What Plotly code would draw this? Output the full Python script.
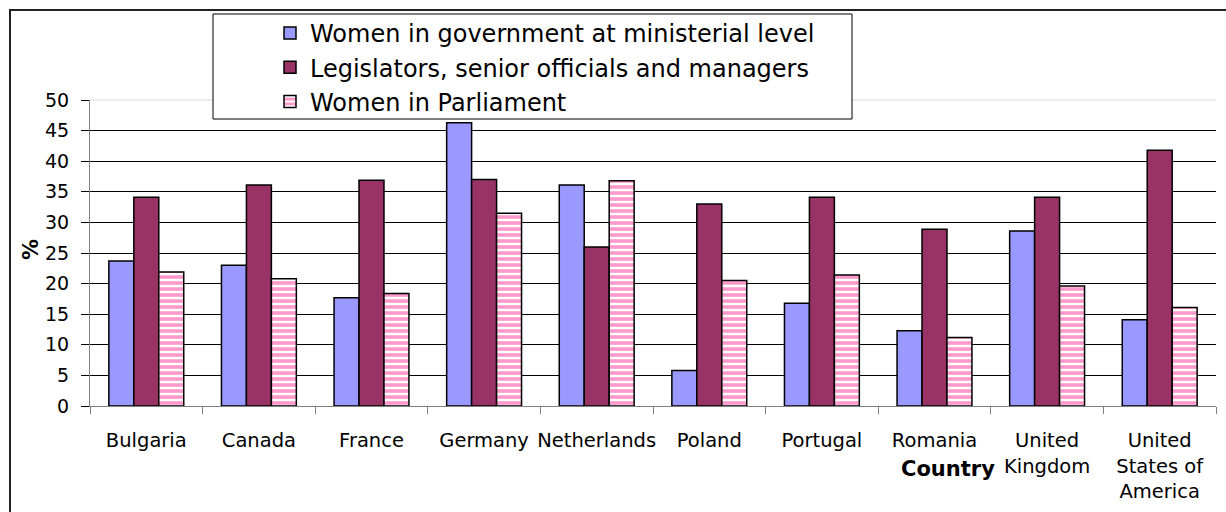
import plotly.graph_objects as go

countries = ["Bulgaria", "Canada", "France", "Germany", "Netherlands", "Poland",
             "Portugal", "Romania", "United<br>Kingdom", "United<br>States of<br>America"]
ministerial = [23.7, 23.0, 17.7, 46.3, 36.1, 5.8, 16.8, 12.3, 28.6, 14.1]
legislators = [34.1, 36.1, 36.9, 37.0, 26.0, 33.0, 34.1, 28.9, 34.1, 41.8]
parliament = [21.9, 20.8, 18.4, 31.5, 36.8, 20.5, 21.4, 11.2, 19.6, 16.1]

series_names = ["Women in government at ministerial level",
                "Legislators, senior officials and managers",
                "Women in Parliament"]
y_ticks = [0, 5, 10, 15, 20, 25, 30, 35, 40, 45, 50]

FONT = "DejaVu Sans"
W, H = 1226, 512
PLOT_L, PLOT_R, PLOT_T, PLOT_B = 90, 1216, 100, 406


def fx(p):
    return p / W


def fy(p):
    return 1 - p / H


fig = go.Figure()
fig.add_trace(go.Bar(x=countries, y=ministerial, name=series_names[0],
                     marker=dict(color="#9999FF", line=dict(color="black", width=1.5))))
fig.add_trace(go.Bar(x=countries, y=legislators, name=series_names[1],
                     marker=dict(color="#993366", line=dict(color="black", width=1.5))))
fig.add_trace(go.Bar(x=countries, y=parliament, name=series_names[2],
                     marker=dict(color="white", line=dict(color="black", width=1.5),
                                 pattern=dict(shape="-", fgcolor="#FF99CC", bgcolor="white",
                                              fgopacity=1, size=6, solidity=0.6))))

fig.update_layout(
    width=W, height=H,
    margin=dict(l=0, r=0, t=0, b=0, autoexpand=False),
    paper_bgcolor="white", plot_bgcolor="white",
    barmode="group", bargap=0.335, bargroupgap=0,
    font=dict(family=FONT, color="black", size=19),
    showlegend=True,
    legend=dict(x=fx(270), y=fy(11), xanchor="left", yanchor="top",
                bgcolor="rgba(0,0,0,0)", borderwidth=0,
                font=dict(family=FONT, size=24, color="black"),
                tracegroupgap=0, traceorder="normal"),
    xaxis=dict(domain=[fx(PLOT_L), fx(PLOT_R)], automargin=False,
               showgrid=False, showline=True, linecolor="#808080", linewidth=1,
               ticks="outside", ticklen=7, tickcolor="#808080", tickson="boundaries",
               tickangle=0,
               tickfont=dict(family=FONT, size=19.5, color="black"),
               ticklabelstandoff=17, fixedrange=True),
    yaxis=dict(domain=[fy(PLOT_B), fy(PLOT_T)], automargin=False,
               range=[0, 50], tickvals=y_ticks, showgrid=True, gridcolor="black",
               gridwidth=1, zeroline=False, showline=True, linecolor="#808080",
               linewidth=1, ticks="outside", ticklen=8, tickcolor="black",
               tickfont=dict(family=FONT, size=19, color="black"),
               ticklabelstandoff=8, fixedrange=True),
)

# legend box (drawn as shape behind legend items)
fig.add_shape(type="rect", xref="paper", yref="paper",
              x0=fx(213), x1=fx(852), y0=fy(119), y1=fy(14),
              fillcolor="white", line=dict(color="black", width=1), layer="above")
# light top border of plot area
fig.add_shape(type="line", xref="paper", yref="paper",
              x0=fx(PLOT_L), x1=fx(PLOT_R), y0=fy(PLOT_T), y1=fy(PLOT_T),
              line=dict(color="#D9D9D9", width=1), layer="between")
# outer chart frame (top and left)
fig.add_shape(type="line", xref="paper", yref="paper",
              x0=fx(9), x1=fx(1226), y0=fy(10), y1=fy(10),
              line=dict(color="#222222", width=2), layer="above")
fig.add_shape(type="line", xref="paper", yref="paper",
              x0=fx(10), x1=fx(10), y0=fy(10), y1=fy(512),
              line=dict(color="#222222", width=2), layer="above")

fig.add_annotation(text="<b>%</b>", xref="paper", yref="paper",
                   x=fx(31), y=fy(250), xanchor="center", yanchor="middle",
                   showarrow=False, textangle=-90,
                   font=dict(family=FONT, size=21, color="black"))
fig.add_annotation(text="<b>Country</b>", xref="paper", yref="paper",
                   x=fx(948), y=fy(469), xanchor="center", yanchor="middle",
                   showarrow=False,
                   font=dict(family=FONT, size=21, color="black"))

fig.write_html("out.html", config={"displayModeBar": False})
